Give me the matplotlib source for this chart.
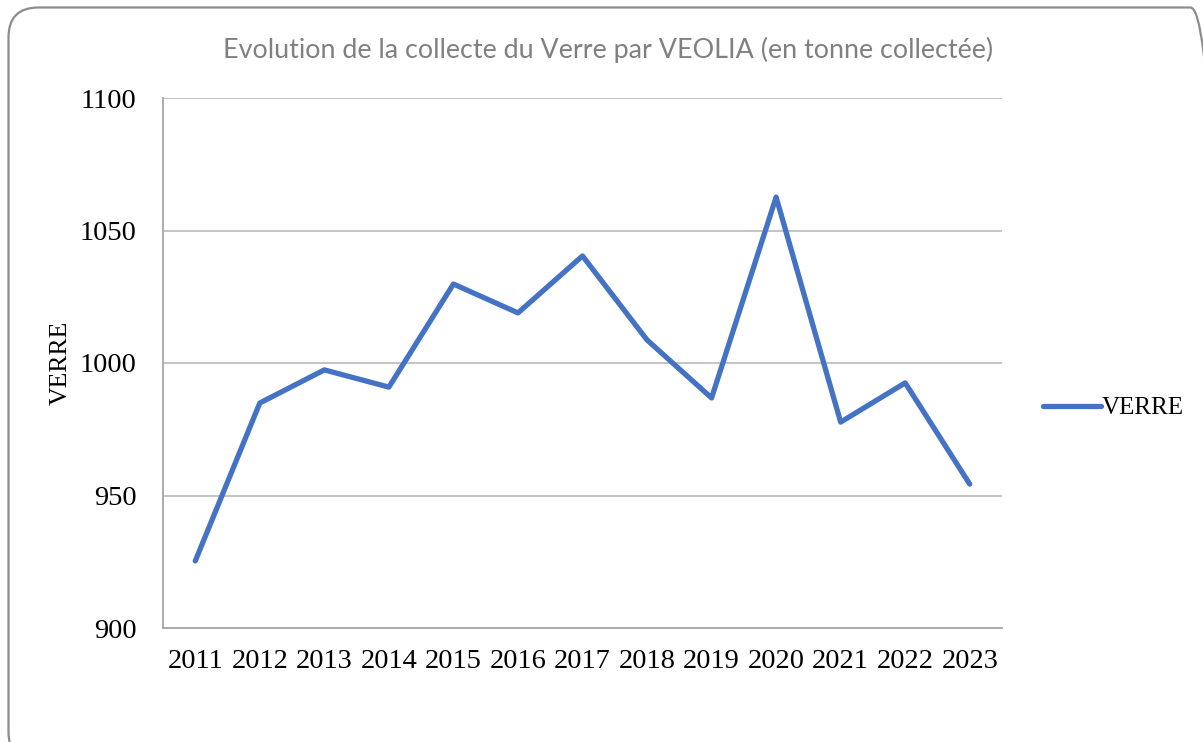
import matplotlib.pyplot as plt
from matplotlib.patches import FancyBboxPatch

annees = ['2011', '2012', '2013', '2014', '2015', '2016', '2017',
          '2018', '2019', '2020', '2021', '2022', '2023']
verre = [925.3, 984.9, 997.4, 990.9, 1029.8, 1018.9, 1040.4,
         1008.7, 986.8, 1062.6, 977.7, 992.5, 954.3]
yticks = [900, 950, 1000, 1050, 1100]

fig = plt.figure(figsize=(12.03, 7.42), dpi=100)

# cadre arrondi (fond en pixels, origine en bas a gauche)
fond = fig.add_axes([0, 0, 1, 1])
fond.set_xlim(0, 1203)
fond.set_ylim(0, 742)
fond.axis('off')
fond.add_patch(FancyBboxPatch((8.5, -20), 1212, 742 - 7.5 + 20,
                              boxstyle="round,pad=0,rounding_size=30",
                              fill=False, edgecolor='#8c8c8c', linewidth=1.6,
                              clip_on=False))

ax = fig.add_axes([163/1203, 1 - 628/742, (1002-163)/1203, (628-98)/742])
x = range(len(annees))
ax.plot(x, verre, color='#4472C4', linewidth=3.8, solid_capstyle='round',
        solid_joinstyle='round', label='VERRE')

ax.set_xlim(-0.5, len(annees) - 0.5)
ax.set_ylim(900, 1100)
ax.set_yticks(yticks)
ax.set_xticks(list(x))
ax.set_xticklabels(annees)
ax.yaxis.grid(True, color='#bfbfbf', linewidth=1.3)
ax.set_axisbelow(True)
for s in ['top', 'right']:
    ax.spines[s].set_visible(False)
for s in ['left', 'bottom']:
    ax.spines[s].set_color('#a6a6a6')
    ax.spines[s].set_linewidth(1.3)
ax.tick_params(length=0, labelsize=20.5, pad=15)
ax.tick_params(axis='y', pad=19)
for lab in ax.get_xticklabels() + ax.get_yticklabels():
    lab.set_family('Liberation Serif')

ax.set_ylabel('VERRE', family='Liberation Serif', fontsize=18.5, labelpad=6)

fig.text(608/1203, 1 - 50/742,
         'Evolution de la collecte du Verre par VEOLIA (en tonne collectée)',
         ha='center', va='center', color='#808080', family='Lato', fontsize=19.4)

ax.legend(loc='center left', bbox_to_anchor=(1043/1203, 1 - 408/742),
          bbox_transform=fig.transFigure, frameon=False, borderaxespad=0,
          borderpad=0, prop={'family': 'Liberation Serif', 'size': 18},
          handlelength=2.3, handletextpad=0.05)

plt.savefig('out.png', dpi=100)
